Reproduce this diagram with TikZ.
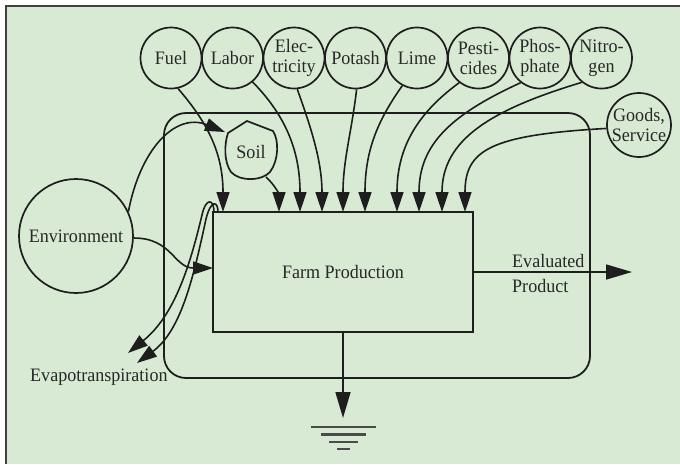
\documentclass[tikz,border=0pt]{standalone}
\usepackage{fontspec}
\setmainfont{Liberation Serif}[FakeStretch=0.95]
\usetikzlibrary{arrows.meta}
\definecolor{paper}{RGB}{216,234,212}
\definecolor{ink}{RGB}{30,30,30}
\definecolor{inktext}{RGB}{40,40,40}
\begin{document}
\begin{tikzpicture}[x=1pt,y=-1pt,
  lbl/.style={font=\fontsize{19}{20}\selectfont, text=inktext, align=center, inner sep=0pt},
  src/.style={circle, draw=ink, line width=1.7pt, minimum size=61pt, inner sep=0pt, lbl},
  flow/.style={draw=ink, line width=1.6pt, -{Triangle[length=20pt,width=13pt]}},
  bigflow/.style={draw=ink, line width=1.6pt, -{Triangle[length=26pt,width=15pt]}},
  gndline/.style={draw=ink!80, line width=2.4pt}]
\useasboundingbox (0,0) rectangle (680,464);
% page and frame
\fill[white] (0,0) rectangle (680,464);
\fill[paper] (6,6) rectangle (680,464);
\draw[ink!85, line width=2.2pt] (680,6) -- (6,6) -- (6,464);

% system boundary and the production process
\node[draw=ink, line width=1.8pt, rounded corners=22pt, minimum width=426pt, minimum height=265pt] (bound) at (377,245.5) {};
\node[draw=ink, line width=1.8pt, minimum width=260pt, minimum height=120pt, lbl] (farm) at (343,272) {Farm Production};

% purchased inputs
\node[src] (fuel)  at (171,58)   {Fuel};
\node[src] (labor) at (232.5,58) {Labor};
\node[src] (elec)  at (294,58)   {Elec-\\tricity};
\node[src] (potash) at (355.5,58) {Potash};
\node[src] (lime)  at (417,58)   {Lime};
\node[src] (pest)  at (478.5,58) {Pesti-\\cides};
\node[src] (phos)  at (540,58)   {Phos-\\phate};
\node[src] (nitro) at (601.5,58) {Nitro-\\gen};
\node[src, minimum size=64pt] (goods) at (639,125) {Goods,\\Service};

% environment and soil
\node[src, minimum size=114pt] (env) at (76,236) {Environment};
\draw[ink, line width=1.7pt] (247,121) -- (273,131) .. controls (279,140) and (279,160) .. (270,172)
  .. controls (262,181) and (240,182) .. (231,172) .. controls (224,162) and (224,145) .. (228,133) -- cycle;
\node[lbl] (soil) at (251,152) {Soil};
\coordinate (soilin) at (225,132);
\coordinate (soilout) at (266,177);

% entry points on the process box
\coordinate (infuel) at (223,212);
\coordinate (insoil) at (279,212);
\coordinate (inlabor) at (300,212);
\coordinate (inelec) at (322,212);
\coordinate (inpotash) at (343,212);
\coordinate (inlime) at (365,212);
\coordinate (inpest) at (397,212);
\coordinate (inphos) at (419,212);
\coordinate (innitro) at (442,212);
\coordinate (ingoods) at (465,212);
\coordinate (inenv) at (213,268);

% input flows
\draw[flow] (fuel.-77) .. controls (205,120) and (223,150) .. (infuel);
\draw[flow] (labor.-50) .. controls (285,115) and (300,150) .. (inlabor);
\draw[flow] (elec.-84) .. controls (310,125) and (322,160) .. (inelec);
\draw[flow] (potash.-88) .. controls (352,130) and (343,160) .. (inpotash);
\draw[flow] (lime.-118) .. controls (378,120) and (365,150) .. (inlime);
\draw[flow] (pest.-128) .. controls (415,115) and (397,150) .. (inpest);
\draw[flow] (phos.-128) .. controls (450,115) and (419,145) .. (inphos);
\draw[flow] (nitro.-129) .. controls (490,110) and (442,140) .. (innitro);
\draw[flow] (goods.-174) .. controls (490,135) and (465,150) .. (ingoods);
\draw[flow] (soilout) .. controls (275,185) and (279,195) .. (insoil);
\draw[flow] (env.25) .. controls (140,150) and (175,112) .. (soilin);
\draw[flow] (env.-2) .. controls (172,238) and (174,268) .. (inenv);

% losses to the atmosphere
\coordinate (evs1) at (214,212);
\coordinate (evs2) at (218,212);
\coordinate (ev1) at (128,353);
\coordinate (ev2) at (137,363);
\draw[flow] (evs1) .. controls (214,199) and (206,197) .. (202,215) .. controls (190,265) and (175,315) .. (ev1);
\draw[flow] (evs2) .. controls (218,201) and (211,199) .. (206,219) .. controls (194,274) and (182,330) .. (ev2);
\node[lbl, anchor=base west] (evapo) at (30,381) {Evapotranspiration};

% product output
\coordinate (prodout) at (632,272);
\draw[bigflow] (farm.east) -- (prodout);
\node[lbl, anchor=base west] (evalA) at (512,267) {Evaluated};
\node[lbl, anchor=base west] (evalB) at (512,292) {Product};

% heat sink
\coordinate (gnd) at (343,418);
\draw[bigflow] (farm.south) -- (gnd);
\draw[gndline] (311,427) -- (376,427);
\draw[gndline] (321,434.5) -- (366,434.5);
\draw[gndline] (329,442) -- (358,442);
\draw[gndline] (337,449) -- (350,449);
\end{tikzpicture}
\end{document}
